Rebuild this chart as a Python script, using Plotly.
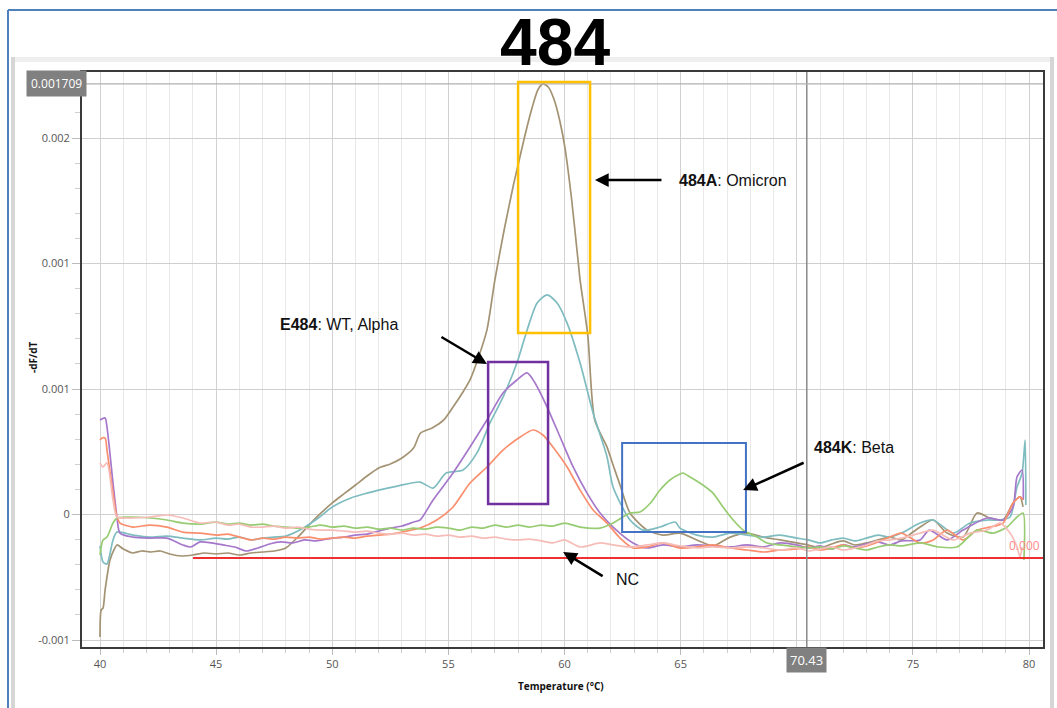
import numpy as np
import plotly.graph_objects as go

# Melt-curve derivative traces (-dF/dT), temperatures in °C, values in units of 1e-4
brown_t = [40.0, 40.05, 40.13, 40.22, 40.43, 40.6, 40.73, 41.0, 41.4, 41.8, 42.2, 42.6, 43.0, 43.5, 44.0,
           44.5, 45.0, 45.5, 46.0, 46.5, 47.0, 47.5, 48.0, 48.6, 49.2, 50.0, 50.5, 51.0, 51.5, 52.0,
           52.5, 53.0, 53.5, 53.8, 54.3, 54.8, 55.2, 55.6, 55.93, 56.3, 56.66, 57.0, 57.4, 57.8, 58.0,
           58.3, 58.6, 58.85, 59.07, 59.3, 59.55, 59.8, 60.02, 60.3, 60.58, 60.67, 61.0, 61.3, 61.83,
           62.09, 62.39, 62.82, 63.55, 64.24, 64.97, 65.7, 66.39, 67.13, 67.86, 68.55, 69.28, 70.0,
           70.5, 71.0, 71.5, 72.0, 72.5, 73.0, 73.5, 74.0, 74.5, 75.0, 75.31, 75.87, 76.47, 77.16,
           77.76, 78.32, 78.88, 79.31, 79.61, 79.74]
brown_val = [-9.82, -8.21, -8.09, -7.01, -5.22, -4.62, -4.32, -4.56, -4.80, -4.68, -4.74, -4.68, -4.86, -4.98, -4.92,
             -4.80, -4.86, -4.80, -4.92, -4.80, -4.74, -4.68, -4.50, -3.73, -2.83, -1.81, -1.27, -0.74, -0.20, 0.28,
             0.52, 0.88, 1.47, 2.37, 2.67, 3.15, 3.92, 4.76, 5.54, 6.91, 8.53, 11.51, 14.50, 17.19, 18.39,
             20.18, 21.79, 22.87, 23.23, 23.05, 22.30, 21.00, 19.40, 16.40, 12.71, 11.51, 8.23, 3.15, 1.53,
             0.46, -0.74, -2.41, -3.43, -3.73, -3.61, -4.02, -4.38, -3.85, -3.61, -3.85, -4.02, -4.20,
             -4.32, -4.50, -4.26, -4.08, -4.32, -4.20, -4.02, -3.85, -4.02, -3.55, -3.25, -2.83, -3.61, -3.85,
             -2.41, -2.71, -2.83, -1.81, -1.45, -2.05]

teal_t = [40.0, 40.13, 40.3, 40.56, 40.73, 41.42, 42.15, 42.88, 43.57, 44.31, 45.0, 45.5, 46.0, 46.5, 47.0,
          47.5, 48.0, 48.6, 49.4, 50.0, 50.8, 51.5, 52.0, 52.8, 53.78, 54.34, 54.9, 55.63, 56.23, 56.79,
          57.35, 57.95, 58.39, 58.82, 59.25, 59.68, 60.11, 60.67, 61.23, 61.83, 62.09, 62.82, 63.38, 64.11,
          64.76, 64.97, 65.7, 66.39, 67.13, 67.86, 68.55, 69.28, 70.0, 70.5, 71.0, 71.5, 72.0, 72.5, 73.0,
          73.5, 74.0, 74.5, 75.31, 75.87, 76.73, 77.46, 78.19, 78.75, 79.18, 79.48, 79.7, 79.83, 79.86]
teal_val = [-4.38, -5.34, -5.46, -4.02, -3.55, -3.73, -3.85, -3.79, -3.91, -4.02, -3.91, -3.97, -3.85, -4.02, -3.91,
            -3.85, -3.79, -3.43, -2.71, -2.05, -1.51, -1.22, -1.04, -0.80, -0.56, -0.92, -0.02, 0.16, 1.18, 2.97,
            4.52, 6.55, 8.53, 10.14, 10.62, 10.14, 8.94, 6.55, 3.57, 0.94, -0.86, -2.83, -3.43, -3.25,
            -2.95, -3.31, -3.73, -3.85, -3.61, -3.73, -3.85, -3.73, -3.91, -4.02, -4.20, -4.02, -3.91, -4.08, -3.91,
            -3.73, -3.85, -3.61, -3.01, -2.83, -3.61, -3.01, -2.83, -2.83, -2.65, -0.86, -0.02, 1.95, -1.93]

purple_t = [40.0, 40.22, 40.3, 40.56, 40.73, 40.86, 41.42, 42.15, 42.88, 43.57, 43.9, 44.31, 44.8, 45.3, 45.8,
            46.3, 46.8, 47.3, 47.8, 48.3, 48.8, 49.3, 50.0, 50.5, 51.0, 51.5, 52.0, 52.5, 53.0, 53.5, 53.78,
            54.34, 55.2, 55.93, 56.66, 57.35, 57.95, 58.39, 58.73, 59.25, 59.81, 60.37, 60.97, 61.53, 62.09,
            62.95, 63.55, 64.24, 64.97, 65.7, 66.39, 67.13, 67.86, 68.55, 69.28, 70.0, 70.5, 71.0, 71.5, 72.0,
            72.5, 73.0, 73.5, 74.0, 74.5, 75.31, 75.7, 76.47, 77.16, 78.19, 78.88, 79.31, 79.48, 79.7, 79.75]
purple_val = [3.15, 3.27, 2.73, -0.62, -2.65, -3.61, -3.85, -3.91, -3.91, -4.32, -4.44, -4.14, -4.20, -4.32, -4.44,
              -4.68, -4.50, -4.26, -4.14, -4.20, -4.02, -4.08, -3.91, -3.85, -3.73, -3.67, -3.49, -3.31, -3.19, -2.95, -2.83,
              -1.63, -0.02, 1.53, 3.15, 4.76, 5.54, 5.96, 5.36, 3.92, 2.13, 0.34, -1.22, -2.41, -3.25,
              -4.20, -4.50, -4.32, -4.44, -4.32, -4.38, -4.44, -4.32, -4.44, -4.20, -4.32, -4.50, -4.38, -4.56, -4.32,
              -4.44, -4.26, -4.14, -4.32, -4.08, -4.02, -3.43, -4.02, -3.43, -2.71, -2.83, -2.05, -0.26, 0.16, -1.63]

orange_t = [40.0, 40.09, 40.22, 40.3, 40.56, 40.73, 40.86, 41.42, 42.15, 42.88, 43.57, 44.31, 45.0, 45.5, 46.0,
            46.5, 47.0, 47.5, 48.0, 48.5, 49.0, 49.5, 50.0, 50.5, 51.0, 51.5, 52.0, 52.5, 53.0, 53.78, 54.5,
            55.2, 55.93, 56.66, 57.35, 58.09, 58.64, 59.07, 59.5, 60.11, 60.67, 61.23, 61.83, 62.39, 62.95,
            63.55, 64.24, 64.97, 65.7, 66.39, 67.13, 67.86, 68.55, 69.28, 70.0, 70.5, 71.0, 71.5, 72.0, 72.5,
            73.0, 73.5, 74.0, 74.5, 75.31, 75.87, 76.47, 77.16, 77.76, 78.32, 78.88, 79.31, 79.61, 79.74]
orange_val = [1.95, 2.07, 2.07, 1.35, -1.22, -2.65, -3.01, -3.25, -3.13, -3.25, -3.55, -3.61, -3.73, -3.67, -3.85,
              -4.02, -3.91, -3.97, -3.85, -3.91, -3.85, -3.97, -3.91, -3.85, -3.91, -3.79, -3.73, -3.67, -3.55, -3.31, -2.83,
              -2.05, -0.62, 0.34, 1.35, 2.13, 2.55, 2.25, 1.53, 0.34, -1.04, -2.23, -3.01, -3.91, -4.50,
              -4.44, -4.20, -4.50, -4.44, -4.32, -4.50, -4.62, -4.74, -4.62, -4.56, -4.44, -4.62, -4.50, -4.32, -4.50,
              -4.38, -4.14, -3.85, -3.61, -4.20, -4.02, -3.43, -4.02, -3.43, -3.25, -3.01, -1.81, -1.45, -1.63]

green_t = [40.0, 40.13, 40.3, 40.56, 40.73, 41.16, 42.15, 42.88, 43.57, 44.31, 45.0, 45.5, 46.0, 46.5, 47.0,
           47.5, 48.0, 48.5, 49.0, 49.5, 50.0, 50.5, 51.0, 51.5, 52.0, 52.5, 53.0, 53.5, 54.0, 54.5, 55.0,
           55.5, 56.0, 56.5, 57.0, 57.5, 58.0, 58.5, 59.0, 59.5, 60.0, 60.67, 61.53, 62.09, 62.82, 63.25,
           63.7, 64.11, 64.54, 64.97, 65.1, 65.4, 65.83, 66.39, 66.82, 67.26, 67.69, 68.29, 68.72, 69.28,
           70.0, 70.5, 71.0, 71.5, 72.0, 72.5, 73.0, 73.5, 74.0, 74.5, 75.31, 76.1, 76.9, 77.76, 78.45,
           79.05, 79.48, 79.74, 79.78]
green_val = [-4.92, -4.02, -3.85, -3.01, -2.71, -2.65, -2.71, -2.83, -3.01, -3.07, -2.95, -3.07, -3.01, -3.13, -3.07,
             -3.19, -3.25, -3.31, -3.25, -3.13, -3.25, -3.19, -3.31, -3.25, -3.37, -3.31, -3.43, -3.31, -3.37, -3.25, -3.31,
             -3.43, -3.25, -3.31, -3.13, -3.25, -3.13, -3.25, -3.13, -3.19, -3.01, -3.25, -3.31, -3.01, -2.41, -2.35,
             -1.81, -1.04, -0.44, -0.08, -0.02, -0.26, -0.62, -1.22, -2.05, -2.83, -3.43, -3.85, -4.20, -4.32,
             -4.44, -4.50, -4.44, -4.56, -4.38, -4.50, -4.62, -4.44, -4.32, -4.38, -4.20, -4.44, -4.44, -3.43, -3.61,
             -3.25, -2.65, -2.41, -5.22]

nc_t = [40.0, 40.13, 40.3, 40.56, 40.73, 41.16, 42.15, 42.88, 43.57, 44.31, 45.0, 45.5, 46.0, 46.5, 47.0,
        47.5, 48.0, 48.5, 49.0, 49.5, 50.0, 50.5, 51.0, 51.5, 52.0, 52.5, 53.0, 53.5, 54.0, 54.5, 55.0,
        55.5, 56.0, 56.5, 57.0, 57.5, 58.0, 58.5, 59.0, 59.5, 60.0, 60.67, 61.53, 62.09, 62.82, 63.55,
        64.24, 64.97, 65.7, 66.39, 67.13, 67.86, 68.55, 69.28, 70.0, 70.5, 71.0, 71.5, 72.0, 72.5, 73.0,
        73.5, 74.0, 74.5, 75.31, 75.87, 76.73, 77.46, 78.19, 78.75, 79.18, 79.48, 79.61, 79.7]
nc_val = [0.58, 0.34, 0.58, -1.63, -2.65, -2.71, -2.65, -2.53, -2.71, -3.01, -2.95, -3.13, -3.07, -3.25, -3.25,
          -3.19, -3.31, -3.25, -3.37, -3.43, -3.43, -3.49, -3.55, -3.49, -3.61, -3.67, -3.61, -3.73, -3.67, -3.79, -3.73,
          -3.85, -3.79, -3.91, -3.85, -3.97, -4.02, -3.97, -4.08, -4.20, -4.02, -4.44, -4.20, -4.32, -4.44, -4.32,
          -4.20, -4.38, -4.50, -4.44, -4.50, -4.44, -4.50, -4.62, -4.50, -4.68, -4.56, -4.44, -4.62, -4.50, -4.32,
          -4.08, -4.02, -3.91, -3.61, -3.43, -4.02, -3.61, -3.43, -3.01, -3.61, -4.44, -5.04, -4.44]

threshold_val = -5.10      # threshold line (×1e-4), drawn from 44 °C
threshold_start = 44.0
cursor_temp = 70.43
cursor_text = "70.43"
cursor_val_text = "0.001709"

# the 70 label sits under the cursor read-out, so only its grid line is drawn
x_tick_vals = [40, 45, 50, 55, 60, 65, 70, 75, 80]
x_tick_text = ["40", "45", "50", "55", "60", "65", "", "75", "80"]
y_tick_vals = [-0.001, -0.00025, 0.0005, 0.00125, 0.002]
y_tick_text = ["-0.001", "0", "0.001", "0.001", "0.002"]

SCALE = 1e-4
series = [
    ("Omicron", brown_t, brown_val, "#a39373"),
    ("Sample 2", teal_t, teal_val, "#7fbcc0"),
    ("WT", purple_t, purple_val, "#a678cc"),
    ("Alpha", orange_t, orange_val, "#fa8f6e"),
    ("Beta", green_t, green_val, "#98cc72"),
    ("NC", nc_t, nc_val, "#f6bdb8"),
]

fig = go.Figure()
for name, t, v, col in series:
    fig.add_trace(go.Scatter(x=t, y=np.array(v) * SCALE, mode="lines", name=name,
                             line=dict(color=col, width=1.7, shape="spline", smoothing=0.7),
                             showlegend=False))

# threshold line
fig.add_trace(go.Scatter(x=[threshold_start, 80.6], y=[threshold_val * SCALE] * 2, mode="lines",
                         line=dict(color="#f03030", width=2), showlegend=False))

peak_val = max(brown_val) * SCALE

X0, X1 = 39.225, 80.60
Y0, Y1 = -0.0010418, 0.0023944

fig.update_layout(
    width=1057, height=708,
    margin=dict(l=82, r=14, t=72, b=61),
    paper_bgcolor="white", plot_bgcolor="white",
    font=dict(family="Open Sans, Liberation Sans, sans-serif", color="#555555", size=11),
    xaxis=dict(range=[X0, X1], tickmode="array", tickvals=x_tick_vals, ticktext=x_tick_text,
               showgrid=True, gridcolor="#d2d2d2", gridwidth=1,
               ticks="outside", ticklen=6, tickcolor="#bbbbbb", zeroline=False,
               showline=True, linecolor="#3a3a3a", linewidth=2, mirror=True,
               tickfont=dict(size=11, color="#555555"),
               minor=dict(dtick=1, tick0=40, showgrid=True, gridcolor="#e8e8e8", ticks="outside",
                          ticklen=4, tickcolor="#cccccc")),
    yaxis=dict(range=[Y0, Y1], tickmode="array", tickvals=y_tick_vals, ticktext=y_tick_text,
               showgrid=True, gridcolor="#cfcfcf", gridwidth=1, zeroline=False,
               ticks="outside", ticklen=8, tickcolor="#bbbbbb",
               showline=True, linecolor="#3a3a3a", linewidth=2, mirror=True,
               tickfont=dict(size=11, color="#555555"),
               minor=dict(tick0=-0.001, dtick=0.00015, ticks="outside", ticklen=5,
                          tickcolor="#d0d0d0", showgrid=False)),
)

shapes = []
# page frame and panel, placed by pixel position on the page
def px_x(p):
    return (p - 82) / 961.0
def px_y(p):
    return (647 - p) / 575.0

shapes.append(dict(type="line", xref="paper", yref="paper", x0=px_x(8), x1=px_x(1060), y0=px_y(10), y1=px_y(10),
                   line=dict(color="#4f81bd", width=2)))
shapes.append(dict(type="line", xref="paper", yref="paper", x0=px_x(8), x1=px_x(8), y0=px_y(10), y1=px_y(712),
                   line=dict(color="#4f81bd", width=2)))
shapes.append(dict(type="rect", xref="paper", yref="paper", x0=px_x(15), x1=px_x(1050), y0=px_y(62), y1=px_y(57),
                   fillcolor="#efefef", line=dict(width=0), layer="below"))
shapes.append(dict(type="rect", xref="paper", yref="paper", x0=px_x(11), x1=px_x(15), y0=px_y(712), y1=px_y(57),
                   fillcolor="#d6d6d6", line=dict(width=0), layer="below"))
shapes.append(dict(type="rect", xref="paper", yref="paper", x0=px_x(1050), x1=px_x(1054), y0=px_y(712), y1=px_y(57),
                   fillcolor="#d6d6d6", line=dict(width=0), layer="below"))

# cursor cross-hair
shapes.append(dict(type="line", xref="x", yref="paper", x0=cursor_temp, x1=cursor_temp, y0=0, y1=1,
                   line=dict(color="#8a8a8a", width=1.5)))
shapes.append(dict(type="line", xref="paper", yref="y", x0=0, x1=1, y0=peak_val, y1=peak_val,
                   line=dict(color="#b0b0b0", width=1.2)))

# highlight boxes
boxes = [
    (58.0, 61.1, 0.002335, 0.000835, "#ffc000", 2.5),
    (56.71, 59.29, 0.000661, -0.000187, "#7030a0", 2.5),
    (62.48, 67.81, 0.000177, -0.000355, "#4472c4", 2.0),
]
for x0, x1, y0, y1, col, w in boxes:
    shapes.append(dict(type="rect", xref="x", yref="y", x0=x0, x1=x1, y0=y0, y1=y1,
                       line=dict(color=col, width=w), fillcolor="rgba(0,0,0,0)"))
fig.update_layout(shapes=shapes)

ann = []
ann.append(dict(text="<b>484</b>", xref="paper", yref="paper", x=px_x(555), y=px_y(42), showarrow=False,
                font=dict(family="Liberation Sans Narrow, Liberation Sans, Arial", size=66, color="black"),
                xanchor="center", yanchor="middle"))
ann.append(dict(text="<b>Temperature (°C)</b>", xref="paper", yref="paper", x=px_x(561), y=px_y(686),
                showarrow=False, font=dict(size=10, color="#111111"), xanchor="center", yanchor="middle"))
ann.append(dict(text="<b>-dF/dT</b>", xref="paper", yref="paper", x=px_x(33), y=px_y(358), textangle=-90,
                showarrow=False, font=dict(size=10, color="#111111"), xanchor="center", yanchor="middle"))
ann.append(dict(text=cursor_val_text, xref="paper", yref="paper", x=px_x(56), y=px_y(84), showarrow=False,
                font=dict(size=12, color="white"), bgcolor="#808080", borderpad=4,
                xanchor="center", yanchor="middle"))
ann.append(dict(text=cursor_text, xref="x", yref="paper", x=cursor_temp, y=px_y(660), showarrow=False,
                font=dict(size=13, color="white"), bgcolor="#808080", borderpad=3,
                xanchor="center", yanchor="middle"))
ann.append(dict(text="0.000", xref="x", yref="y", x=80.55, y=-0.000435, showarrow=False,
                font=dict(size=12, color="#ff8a8a"), xanchor="right", yanchor="middle"))

label_font = dict(family="Liberation Sans, Arial", size=16, color="#111111")
arrows = [
    # (head x, head y, tail offset x, tail offset y)
    (61.31, 0.001749, 68, 0),
    (56.66, 0.000649, -47, -28),
    (67.69, -0.000104, 62, -28),
    (59.94, -0.000474, 41, 25),
]
for hx, hy, ax, ay in arrows:
    ann.append(dict(text="", x=hx, y=hy, xref="x", yref="y", ax=ax, ay=ay, showarrow=True,
                    arrowhead=2, arrowsize=1.1, arrowwidth=2.5, arrowcolor="black"))
labels = [
    ("<b>484A</b>: Omicron", 64.84, 0.001749),
    ("<b>E484</b>: WT, Alpha", 47.66, 0.000888),
    ("<b>484K</b>: Beta", 70.66, 0.000153),
    ("NC", 62.13, -0.000641),
]
for txt, lx, ly in labels:
    ann.append(dict(text=txt, x=lx, y=ly, xref="x", yref="y", showarrow=False, xanchor="left",
                    yanchor="middle", font=label_font))
fig.update_layout(annotations=ann)

fig.write_html("out.html")
